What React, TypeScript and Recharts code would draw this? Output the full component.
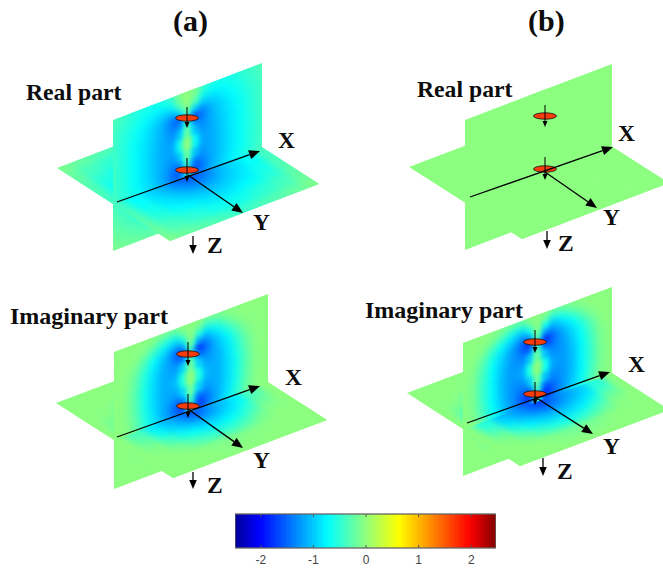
import { ScatterChart, Scatter, XAxis, YAxis } from 'recharts'

const WIDTH = 663
const HEIGHT = 571

// colour scale of the bar (value -> colour)
const SCALE_VALUES = [-2.5, -2, -0.7, 0, 0.65, 2, 2.5]
const SCALE_COLOURS = [[0, 0, 143], [0, 0, 255], [0, 255, 255], [140, 255, 128], [255, 255, 0], [255, 0, 0], [128, 0, 0]]

const BAR_LEVELS = [
  -2.45, -2.35, -2.25, -2.15, -2.05, -1.95, -1.85, -1.75, -1.65, -1.55,
  -1.45, -1.35, -1.25, -1.15, -1.05, -0.95, -0.85, -0.75, -0.65, -0.55,
  -0.45, -0.35, -0.25, -0.15, -0.05, 0.05, 0.15, 0.25, 0.35, 0.45,
  0.55, 0.65, 0.75, 0.85, 0.95, 1.05, 1.15, 1.25, 1.35, 1.45,
  1.55, 1.65, 1.75, 1.85, 1.95, 2.05, 2.15, 2.25, 2.35, 2.45,
]
const BAR_TICKS = [-2, -1, 0, 1, 2]

// sample positions on the planes
const SIDE_OFFSETS = [0, 0.025, 0.05, 0.08, 0.12, 0.18, 0.24, 0.3, 0.36, 0.43, 0.5]
const HEIGHT_ROWS = [0, 0.05, 0.1, 0.15, 0.2, 0.25, 0.3, 0.4, 0.5, 0.55, 0.6, 0.65, 0.7, 0.8, 0.9, 1]
const FLOOR_OFFSETS = [0, 0.05, 0.1, 0.18, 0.26, 0.36, 0.5]

const A_REAL_WALL = [
  [0, -0.02, -0.1, -0.25, -0.42, -0.55, -0.58, -0.55, -0.48, -0.38, -0.3],
  [0.05, -0.02, -0.15, -0.4, -0.6, -0.68, -0.66, -0.6, -0.52, -0.42, -0.33],
  [0.05, -0.1, -0.35, -0.65, -0.85, -0.85, -0.76, -0.66, -0.56, -0.45, -0.35],
  [-0.05, -0.5, -0.95, -1.15, -1.12, -0.98, -0.84, -0.72, -0.6, -0.48, -0.37],
  [-0.4, -1.1, -1.55, -1.55, -1.3, -1.05, -0.9, -0.76, -0.63, -0.5, -0.38],
  [-0.2, -0.9, -1.35, -1.4, -1.25, -1.06, -0.92, -0.78, -0.65, -0.5, -0.38],
  [0, -0.6, -1.05, -1.25, -1.22, -1.08, -0.93, -0.8, -0.66, -0.51, -0.38],
  [0.1, -0.2, -0.75, -1.05, -1.18, -1.1, -0.95, -0.8, -0.66, -0.52, -0.38],
  [0, -0.55, -1.05, -1.22, -1.2, -1.1, -0.95, -0.8, -0.66, -0.52, -0.38],
  [-0.25, -0.95, -1.4, -1.4, -1.25, -1.1, -0.95, -0.8, -0.66, -0.5, -0.38],
  [-0.5, -1.25, -1.55, -1.55, -1.32, -1.1, -0.93, -0.78, -0.64, -0.5, -0.36],
  [-0.5, -1.15, -1.45, -1.45, -1.25, -1.05, -0.9, -0.75, -0.6, -0.47, -0.33],
  [-0.6, -0.95, -1.15, -1.18, -1.1, -0.98, -0.82, -0.68, -0.54, -0.42, -0.3],
  [-0.65, -0.75, -0.8, -0.82, -0.8, -0.72, -0.62, -0.52, -0.42, -0.32, -0.24],
  [-0.45, -0.45, -0.45, -0.45, -0.44, -0.42, -0.38, -0.33, -0.27, -0.22, -0.16],
  [-0.25, -0.25, -0.25, -0.25, -0.24, -0.22, -0.2, -0.18, -0.15, -0.12, -0.08],
]
const A_REAL_FLOOR = [
  [-1.6, -1.55, -1.4, -1.12, -0.92, -0.72, -0.36],
  [-1.5, -1.45, -1.32, -1.08, -0.9, -0.7, -0.35],
  [-1.3, -1.25, -1.15, -1, -0.85, -0.66, -0.34],
  [-1.05, -1.02, -0.98, -0.88, -0.78, -0.6, -0.3],
  [-0.85, -0.85, -0.8, -0.72, -0.65, -0.5, -0.26],
  [-0.65, -0.62, -0.6, -0.52, -0.45, -0.35, -0.18],
  [-0.4, -0.38, -0.34, -0.3, -0.25, -0.18, -0.08],
]

const A_IMAG_WALL = [
  [0, 0, 0, -0.03, -0.06, -0.05, -0.02, 0, 0, 0, 0],
  [0, -0.03, -0.15, -0.35, -0.4, -0.25, -0.08, -0.02, 0, 0, 0],
  [0, -0.15, -0.55, -0.85, -0.8, -0.6, -0.3, -0.08, -0.01, 0, 0],
  [0, -0.5, -1.15, -1.3, -1.1, -0.85, -0.55, -0.25, -0.05, 0, 0],
  [-0.25, -1.1, -1.7, -1.65, -1.3, -1, -0.72, -0.4, -0.12, 0, 0],
  [-0.15, -0.9, -1.45, -1.45, -1.25, -1.05, -0.8, -0.5, -0.18, -0.01, 0],
  [0, -0.45, -0.95, -1.15, -1.18, -1.1, -0.85, -0.55, -0.22, -0.02, 0],
  [0.08, -0.12, -0.6, -0.95, -1.1, -1.1, -0.88, -0.6, -0.26, -0.03, 0],
  [0, -0.45, -0.95, -1.15, -1.18, -1.1, -0.88, -0.58, -0.25, -0.03, 0],
  [-0.15, -0.9, -1.45, -1.45, -1.28, -1.1, -0.85, -0.55, -0.22, -0.02, 0],
  [-0.3, -1.2, -1.7, -1.65, -1.35, -1.1, -0.82, -0.52, -0.2, -0.02, 0],
  [-0.25, -1.05, -1.5, -1.45, -1.25, -1.05, -0.75, -0.45, -0.15, -0.01, 0],
  [-0.2, -0.75, -1.15, -1.15, -1.05, -0.9, -0.62, -0.35, -0.1, 0, 0],
  [-0.1, -0.3, -0.5, -0.6, -0.6, -0.5, -0.3, -0.12, -0.02, 0, 0],
  [0, -0.02, -0.05, -0.1, -0.1, -0.06, -0.02, 0, 0, 0, 0],
  [0, 0, 0, 0, 0, 0, 0, 0, 0, 0, 0],
]
const A_IMAG_FLOOR = [
  [-1.6, -1.5, -1.25, -1.05, -0.8, -0.35, 0],
  [-1.5, -1.4, -1.2, -1, -0.75, -0.3, 0],
  [-1.15, -1.1, -1, -0.85, -0.6, -0.22, 0],
  [-0.8, -0.8, -0.72, -0.6, -0.35, -0.08, 0],
  [-0.45, -0.45, -0.4, -0.28, -0.1, -0.01, 0],
  [-0.05, -0.05, -0.04, -0.02, 0, 0, 0],
  [0, 0, 0, 0, 0, 0, 0],
]

const B_IMAG_WALL = [
  [0, 0, -0.02, -0.06, -0.1, -0.08, -0.03, 0, 0, 0, 0],
  [0, -0.05, -0.2, -0.42, -0.5, -0.35, -0.15, -0.04, 0, 0, 0],
  [0, -0.2, -0.65, -0.95, -0.95, -0.72, -0.45, -0.18, -0.03, 0, 0],
  [0, -0.55, -1.25, -1.4, -1.2, -0.98, -0.7, -0.42, -0.12, 0, 0],
  [-0.25, -1.15, -1.8, -1.75, -1.4, -1.12, -0.85, -0.58, -0.25, -0.02, 0],
  [-0.15, -0.95, -1.55, -1.55, -1.35, -1.18, -0.92, -0.65, -0.32, -0.05, 0],
  [0, -0.5, -1.05, -1.25, -1.28, -1.2, -0.98, -0.7, -0.38, -0.08, 0],
  [0.08, -0.12, -0.65, -1.02, -1.2, -1.2, -1.02, -0.72, -0.42, -0.1, 0],
  [0, -0.5, -1.05, -1.25, -1.3, -1.22, -1.02, -0.72, -0.42, -0.1, 0],
  [-0.15, -0.95, -1.55, -1.55, -1.4, -1.22, -1, -0.7, -0.38, -0.08, 0],
  [-0.3, -1.25, -1.8, -1.75, -1.45, -1.2, -0.95, -0.68, -0.35, -0.06, 0],
  [-0.25, -1.1, -1.6, -1.55, -1.38, -1.18, -0.9, -0.6, -0.28, -0.04, 0],
  [-0.2, -0.8, -1.25, -1.28, -1.18, -1.02, -0.75, -0.48, -0.18, -0.02, 0],
  [-0.1, -0.35, -0.6, -0.7, -0.7, -0.6, -0.42, -0.2, -0.05, 0, 0],
  [0, -0.03, -0.08, -0.14, -0.15, -0.1, -0.04, 0, 0, 0, 0],
  [0, 0, 0, 0, 0, 0, 0, 0, 0, 0, 0],
]
const B_IMAG_FLOOR = [
  [-1.75, -1.6, -1.4, -1.2, -1, -0.55, -0.02],
  [-1.6, -1.5, -1.35, -1.15, -0.95, -0.5, 0],
  [-1.3, -1.25, -1.15, -1, -0.8, -0.38, 0],
  [-0.95, -0.95, -0.88, -0.75, -0.5, -0.15, 0],
  [-0.6, -0.58, -0.52, -0.38, -0.18, -0.02, 0],
  [-0.1, -0.1, -0.08, -0.04, 0, 0, 0],
  [0, 0, 0, 0, 0, 0, 0],
]

const FLAT_WALL = HEIGHT_ROWS.map(() => SIDE_OFFSETS.map(() => 0))
const FLAT_FLOOR = FLOOR_OFFSETS.map(() => FLOOR_OFFSETS.map(() => 0))

const PANELS = [
  { id: 'ar', wall: A_REAL_WALL, floor: A_REAL_FLOOR, left: [57, 168], top: [113, 120], w: [149, -57], h: 131, d: [113, 73] },
  { id: 'br', wall: FLAT_WALL, floor: FLAT_FLOOR, left: [409, 167], top: [465, 120], w: [147, -56], h: 130, d: [113, 72] },
  { id: 'ai', wall: A_IMAG_WALL, floor: A_IMAG_FLOOR, left: [56, 403], top: [114, 352], w: [154, -58], h: 137, d: [117, 75] },
  { id: 'bi', wall: B_IMAG_WALL, floor: B_IMAG_FLOOR, left: [407, 393], top: [463, 343], w: [149, -56], h: 133, d: [113, 73] },
]

const DISCS = [
  { x: 187, y: 118 }, { x: 187, y: 170 },
  { x: 545, y: 116 }, { x: 545, y: 169 },
  { x: 188, y: 354 }, { x: 188, y: 406 },
  { x: 535, y: 342 }, { x: 535, y: 394 },
]

// tip at x,y; tail at tx,ty
const ARROWS = [
  { x: 260, y: 151, tx: 117, ty: 202, head: 11 }, { x: 243, y: 213, tx: 188, ty: 175, head: 11 }, { x: 193, y: 254, tx: 193, ty: 236, head: 9 },
  { x: 187, y: 128, tx: 187, ty: 107, head: 6 }, { x: 187, y: 182, tx: 187, ty: 158, head: 6 },
  { x: 613, y: 147, tx: 470, ty: 197, head: 11 }, { x: 597, y: 208, tx: 545, ty: 172, head: 11 }, { x: 547, y: 249, tx: 547, ty: 231, head: 9 },
  { x: 545, y: 127, tx: 545, ty: 105, head: 6 }, { x: 545, y: 180, tx: 545, ty: 157, head: 6 },
  { x: 260, y: 386, tx: 117, ty: 437, head: 11 }, { x: 243, y: 448, tx: 188, ty: 409, head: 11 }, { x: 193, y: 489, tx: 193, ty: 472, head: 9 },
  { x: 188, y: 366, tx: 188, ty: 342, head: 6 }, { x: 188, y: 418, tx: 188, ty: 394, head: 6 },
  { x: 610, y: 372, tx: 467, ty: 423, head: 11 }, { x: 593, y: 434, tx: 535, ty: 397, head: 11 }, { x: 543, y: 476, tx: 543, ty: 458, head: 9 },
  { x: 535, y: 353, tx: 535, ty: 330, head: 6 }, { x: 535, y: 405, tx: 535, ty: 382, head: 6 },
]

const LABELS = [
  { x: 173, y: 31, text: '(a)', size: 30 }, { x: 528, y: 31, text: '(b)', size: 30 },
  { x: 26, y: 100, text: 'Real part', size: 23.7 }, { x: 417, y: 97, text: 'Real part', size: 23.7 },
  { x: 10, y: 324, text: 'Imaginary part', size: 24 }, { x: 365, y: 318, text: 'Imaginary part', size: 24 },
  { x: 278, y: 148, text: 'X', size: 23.5 }, { x: 253, y: 230, text: 'Y', size: 23.5 }, { x: 207, y: 253, text: 'Z', size: 23.5 },
  { x: 618, y: 141, text: 'X', size: 23.5 }, { x: 603, y: 225, text: 'Y', size: 23.5 }, { x: 558, y: 251, text: 'Z', size: 23.5 },
  { x: 285, y: 385, text: 'X', size: 23.5 }, { x: 253, y: 468, text: 'Y', size: 23.5 }, { x: 207, y: 493, text: 'Z', size: 23.5 },
  { x: 628, y: 372, text: 'X', size: 23.5 }, { x: 603, y: 454, text: 'Y', size: 23.5 }, { x: 557, y: 479, text: 'Z', size: 23.5 },
]

function colourOf(v: number) {
  let i = 0
  while (i < SCALE_VALUES.length - 2 && v > SCALE_VALUES[i + 1]) i++
  const f = Math.min(1, Math.max(0, (v - SCALE_VALUES[i]) / (SCALE_VALUES[i + 1] - SCALE_VALUES[i])))
  const c = SCALE_COLOURS[i].map((a, k) => Math.round(a + (SCALE_COLOURS[i + 1][k] - a) * f))
  return `rgb(${c[0]},${c[1]},${c[2]})`
}

// cell edges for a list of sample positions; the outer cells run past the plane so the blur does not fade
function edgesOf(pos: number[]) {
  return pos.map((p, i) => ({
    lo: i === 0 ? p - 0.12 : (pos[i - 1] + p) / 2,
    hi: i === pos.length - 1 ? p + 0.12 : (p + pos[i + 1]) / 2,
  }))
}

function mirror<T>(list: T[], sign: (a: T) => T) {
  return [...list.slice(1).reverse().map(sign), ...list]
}

// maxOffset limits the cells to a strip round the centre line
function wallCells(p: (typeof PANELS)[number], maxOffset: number) {
  const signed = mirror(SIDE_OFFSETS, (a) => -a)
  const cols = edgesOf(signed.map((a) => a + 0.5))
  const rows = edgesOf(HEIGHT_ROWS)
  const out: any[] = []
  p.wall.forEach((row, r) => {
    mirror(row, (a) => a).forEach((v, c) => {
      if (Math.abs(signed[c]) > maxOffset) return
      const s = (cols[c].lo + cols[c].hi) / 2
      const t = (rows[r].lo + rows[r].hi) / 2
      out.push({
        x: p.top[0] + p.w[0] * s,
        y: p.top[1] + p.w[1] * s + p.h * t,
        fill: colourOf(v),
        ax: (p.w[0] * (cols[c].hi - cols[c].lo)) / 2,
        ay: (p.w[1] * (cols[c].hi - cols[c].lo)) / 2,
        bx: 0,
        by: (p.h * (rows[r].hi - rows[r].lo)) / 2,
      })
    })
  })
  return out
}

function floorCells(p: (typeof PANELS)[number]) {
  const signed = mirror(FLOOR_OFFSETS, (a) => -a).map((a) => a + 0.5)
  const cols = edgesOf(signed)
  const rows = edgesOf(signed)
  const grid = mirror(p.floor, (a) => a)
  const out: any[] = []
  grid.forEach((row, r) => {
    mirror(row, (a) => a).forEach((v, c) => {
      const s = (cols[c].lo + cols[c].hi) / 2
      const t = (rows[r].lo + rows[r].hi) / 2
      out.push({
        x: p.left[0] + p.w[0] * s + p.d[0] * t,
        y: p.left[1] + p.w[1] * s + p.d[1] * t,
        fill: colourOf(v),
        ax: (p.w[0] * (cols[c].hi - cols[c].lo)) / 2,
        ay: (p.w[1] * (cols[c].hi - cols[c].lo)) / 2,
        bx: (p.d[0] * (rows[r].hi - rows[r].lo)) / 2,
        by: (p.d[1] * (rows[r].hi - rows[r].lo)) / 2,
      })
    })
  })
  return out
}

function pts(list: number[][]) {
  return list.map((q) => q.join(',')).join(' ')
}

function clipShapes(p: (typeof PANELS)[number]) {
  const [lx, ly] = p.left
  const [wx, wy] = p.w
  const [dx, dy] = p.d
  const [tx, ty] = p.top
  const ax = lx + dx / 2
  const ay = ly + dy / 2
  return {
    floor: [[lx, ly], [lx + wx, ly + wy], [lx + wx + dx, ly + wy + dy], [lx + dx, ly + dy]],
    near: [[ax, ay], [ax + wx, ay + wy], [lx + wx + dx, ly + wy + dy], [lx + dx, ly + dy]],
    wall: [[tx, ty], [tx + wx, ty + wy], [tx + wx, ty + wy + p.h], [tx, ty + p.h]],
  }
}

function CellShape(props: any) {
  const { cx, cy, payload: q } = props
  const d = `M${cx + q.ax + q.bx} ${cy + q.ay + q.by}L${cx + q.ax - q.bx} ${cy + q.ay - q.by}L${cx - q.ax - q.bx} ${cy - q.ay - q.by}L${cx - q.ax + q.bx} ${cy - q.ay + q.by}Z`
  return <path d={d} fill={q.fill} stroke={q.fill} strokeWidth={1} />
}

function DiscShape(props: any) {
  return <ellipse cx={props.cx} cy={props.cy} rx={11.5} ry={3.2} fill="#f73c0c" stroke="#111" strokeWidth={0.8} />
}

function ArrowShape(props: any) {
  const { cx, cy, payload: a } = props
  const ux = a.x - a.tx
  const uy = a.y - a.ty
  const len = Math.hypot(ux, uy)
  const nx = ux / len
  const ny = uy / len
  const bx = cx - nx * a.head
  const by = cy - ny * a.head
  const half = a.head * 0.42
  return (
    <g>
      <line x1={cx - ux} y1={cy - uy} x2={bx} y2={by} stroke="#000" strokeWidth={a.head > 8 ? 1.3 : 1} />
      <polygon points={`${cx},${cy} ${bx - ny * half},${by + nx * half} ${bx + ny * half},${by - nx * half}`} fill="#000" />
    </g>
  )
}

function LabelShape(props: any) {
  const { cx, cy, payload: l } = props
  return (
    <text x={cx} y={cy} fontFamily="'Liberation Serif', serif" fontWeight="bold" fontSize={l.size} fill="#0d0d0d">
      {l.text}
    </text>
  )
}

function BarCell(props: any) {
  const { cx, payload: q } = props
  return <rect x={cx - 4} y={-4} width={8} height={46} fill={colourOf(q.v)} />
}

function BarTick(props: any) {
  return (
    <g stroke="#555" strokeWidth={1}>
      <line x1={props.cx} y1={2} x2={props.cx} y2={5} />
      <line x1={props.cx} y1={33} x2={props.cx} y2={36} />
    </g>
  )
}

function BarFrame() {
  return <rect x={2} y={2} width={261} height={34} fill="none" stroke="#666" strokeWidth={1.3} />
}

const barData = BAR_LEVELS.map((v) => ({ v, y: 0.5 }))
const tickData = BAR_TICKS.map((v) => ({ v, y: 0.5 }))

export default function App() {
  const layerCss = PANELS.map(
    (p) => `
    .${p.id}-floor { filter: blur(3.5px); clip-path: url(#${p.id}-floor-clip); }
    .${p.id}-wall { filter: blur(3.5px); clip-path: url(#${p.id}-wall-clip); }
    .${p.id}-strip { filter: blur(2px); clip-path: url(#${p.id}-wall-clip); }
    .${p.id}-near { filter: blur(3.5px); clip-path: url(#${p.id}-near-clip); }`,
  ).join('\n')

  return (
    <div style={{ position: 'relative', width: WIDTH, height: HEIGHT }}>
      <style>{`body { margin: 0; background: #fff; }
      .bar-cells { filter: blur(1.2px); clip-path: url(#bar-clip); }
      ${layerCss}`}</style>
      <svg width={0} height={0} style={{ position: 'absolute' }}>
        <defs>
          <clipPath id="bar-clip"><polygon points="2,2 263,2 263,36 2,36" /></clipPath>
          {PANELS.map((p) => {
            const c = clipShapes(p)
            return (
              <g key={p.id}>
                <clipPath id={`${p.id}-floor-clip`}><polygon points={pts(c.floor)} /></clipPath>
                <clipPath id={`${p.id}-wall-clip`}><polygon points={pts(c.wall)} /></clipPath>
                <clipPath id={`${p.id}-near-clip`}><polygon points={pts(c.near)} /></clipPath>
              </g>
            )
          })}
        </defs>
      </svg>

      <div style={{ position: 'absolute', left: 0, top: 0 }}>
        <ScatterChart width={WIDTH} height={HEIGHT} margin={{ top: 0, right: 0, bottom: 0, left: 0 }}>
          <XAxis type="number" dataKey="x" domain={[0, WIDTH]} allowDataOverflow hide />
          <YAxis type="number" dataKey="y" domain={[0, HEIGHT]} allowDataOverflow reversed hide />
          {PANELS.flatMap((p) => {
            const floor = floorCells(p)
            return [
              <Scatter key={`${p.id}-f`} className={`${p.id}-floor`} data={floor} shape={CellShape} isAnimationActive={false} />,
              <Scatter key={`${p.id}-w`} className={`${p.id}-wall`} data={wallCells(p, 1)} shape={CellShape} isAnimationActive={false} />,
              <Scatter key={`${p.id}-s`} className={`${p.id}-strip`} data={wallCells(p, 0.05)} shape={CellShape} isAnimationActive={false} />,
              <Scatter key={`${p.id}-n`} className={`${p.id}-near`} data={floor} shape={CellShape} isAnimationActive={false} />,
            ]
          })}
          <Scatter data={DISCS} shape={DiscShape} isAnimationActive={false} />
          <Scatter data={ARROWS} shape={ArrowShape} isAnimationActive={false} />
          <Scatter data={LABELS} shape={LabelShape} isAnimationActive={false} />
        </ScatterChart>
      </div>

      <div style={{ position: 'absolute', left: 233, top: 512 }}>
        <ScatterChart width={265} height={58} margin={{ top: 2, right: 2, bottom: 0, left: 2 }}>
          <XAxis
            type="number"
            dataKey="v"
            domain={[-2.49, 2.47]}
            ticks={BAR_TICKS}
            allowDataOverflow
            height={22}
            axisLine={false}
            tickLine={false}
            tickSize={0}
            tickMargin={7}
            tick={{ fontSize: 12, fontFamily: "'Liberation Sans', sans-serif", fill: '#444' }}
          />
          <YAxis type="number" dataKey="y" domain={[0, 1]} hide />
          <Scatter className="bar-cells" data={barData} shape={BarCell} isAnimationActive={false} />
          <Scatter data={tickData} shape={BarTick} isAnimationActive={false} />
          <Scatter data={[{ v: 0, y: 0.5 }]} shape={BarFrame} isAnimationActive={false} />
        </ScatterChart>
      </div>
    </div>
  )
}
